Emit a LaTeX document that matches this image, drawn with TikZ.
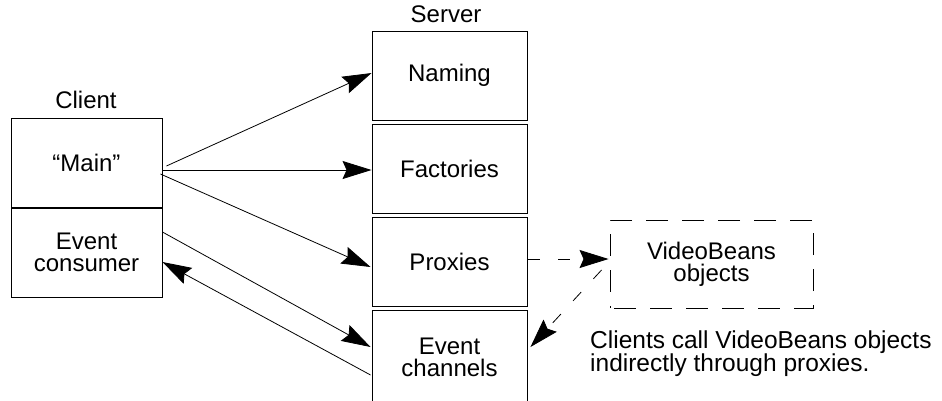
\documentclass[tikz,border=0pt]{standalone}
\usepackage{fontspec}
\setmainfont{Liberation Sans}
\usetikzlibrary{arrows.meta}
\begin{document}
\begin{tikzpicture}[x=1pt,y=-1pt,
  font=\fontsize{24}{22}\selectfont,
  part/.style={draw, line width=0.9pt, inner sep=0pt, align=center,
    minimum width=151pt, minimum height=89pt},
  spart/.style={draw, line width=0.9pt, inner sep=0pt, align=center,
    minimum width=155pt, minimum height=89pt},
  call/.style={line width=0.8pt, -{Stealth[length=29pt,width=18pt,inset=4pt]}},
  dcall/.style={call, dash pattern=on 12pt off 18pt}]
\useasboundingbox (0,0) rectangle (942,400);

% client side
\node (clientlbl) at (86,100) {Client};
\node[part] (main) at (86.5,163) {“Main”};
\node[part] (consumer) at (86.5,252.5) {Event\\consumer};

% server side
\node (serverlbl) at (446,14) {Server};
\node[spart] (naming) at (449.5,75.5) {Naming};
\node[spart] (factories) at (449.5,168.5) {Factories};
\node[spart] (proxies) at (449.5,261.5) {Proxies};
\node[spart, minimum height=94pt] (channels) at (449.5,357) {Event\\channels};

% remote objects
\node[draw, line width=0.9pt, dash pattern=on 22pt off 14pt, dash phase=-4pt,
  minimum width=203pt, minimum height=88pt, inner sep=0pt, align=center]
  (beans) at (711.5,264) {VideoBeans\\objects};
\node[anchor=north west, align=left, inner sep=0pt,
  font=\fontsize{24.5}{23}\selectfont] (note) at (590,331)
  {Clients call VideoBeans objects\\indirectly through proxies.};

% calls from the client
\draw[call] ([shift={(4,3)}]main.east) -- ([shift={(0,-2.5)}]naming.west);
\draw[call] ([shift={(0,7)}]main.east) -- ([shift={(0,1.5)}]factories.west);
\draw[call] ([shift={(-2,11)}]main.east) -- ([shift={(-1,5.5)}]proxies.west);
\draw[call] ([shift={(0,-20.5)}]consumer.east) -- ([shift={(-1,-10)}]channels.west);
\draw[call] ([shift={(-1,18)}]channels.west) -- ([shift={(0,9.5)}]consumer.east);

% indirect access through proxies
\draw[dcall] ([shift={(1,-2.5)}]proxies.east) -- ([shift={(-1,-5)}]beans.west);
\draw[dcall] ([shift={(-8,6)}]beans.west) -- ([shift={(3,-10)}]channels.east);
\end{tikzpicture}
\end{document}
